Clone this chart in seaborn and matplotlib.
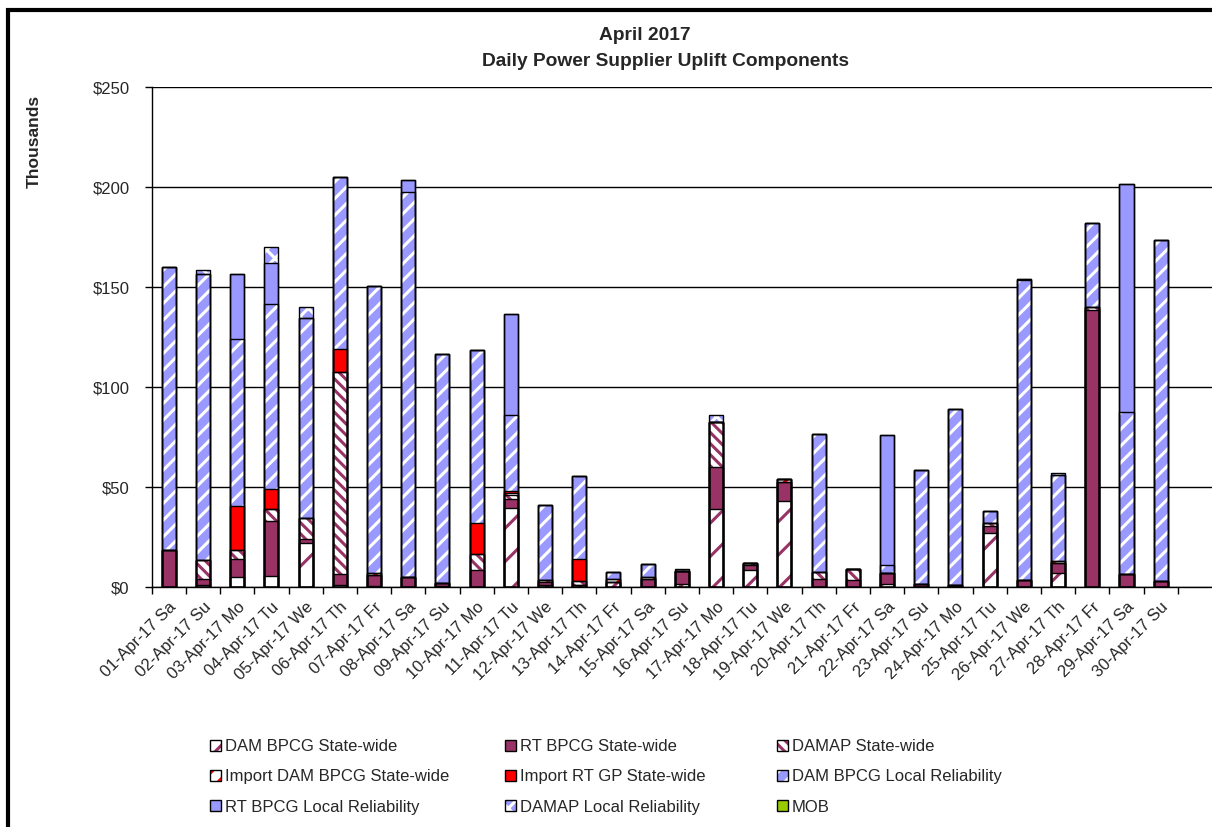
import numpy as np
import matplotlib
matplotlib.use("Agg")
import matplotlib.pyplot as plt
import matplotlib.patches as mpatches
from matplotlib.legend_handler import HandlerTuple
import seaborn as sns

days = ["01-Apr-17 Sa", "02-Apr-17 Su", "03-Apr-17 Mo", "04-Apr-17 Tu", "05-Apr-17 We",
        "06-Apr-17 Th", "07-Apr-17 Fr", "08-Apr-17 Sa", "09-Apr-17 Su", "10-Apr-17 Mo",
        "11-Apr-17 Tu", "12-Apr-17 We", "13-Apr-17 Th", "14-Apr-17 Fr", "15-Apr-17 Sa",
        "16-Apr-17 Su", "17-Apr-17 Mo", "18-Apr-17 Tu", "19-Apr-17 We", "20-Apr-17 Th",
        "21-Apr-17 Fr", "22-Apr-17 Sa", "23-Apr-17 Su", "24-Apr-17 Mo", "25-Apr-17 Tu",
        "26-Apr-17 We", "27-Apr-17 Th", "28-Apr-17 Fr", "29-Apr-17 Sa", "30-Apr-17 Su"]

# values in $ thousands, one list per component (stack order bottom -> top)
dam_bpcg_sw = [0, 1.0, 5.0, 5.5, 22.2, 0.8, 0.5, 0, 0.5, 0,
               39.5, 1.0, 1.0, 2.5, 0, 1.7, 39.2, 8.3, 43.0, 0,
               0, 1.7, 0, 0, 27.0, 0, 7.2, 0, 0, 0]
rt_bpcg_sw = [18.3, 3.2, 9.2, 27.5, 2.0, 5.9, 5.3, 5.0, 1.5, 8.7,
              4.7, 1.5, 0, 0, 4.2, 6.1, 20.8, 2.5, 9.5, 4.2,
              3.7, 5.5, 1.7, 0.8, 3.3, 3.7, 5.0, 138.3, 6.7, 2.8]
damap_sw = [0, 9.5, 4.1, 6.0, 10.3, 100.8, 0, 0, 0, 8.0,
            1.6, 1.0, 1.8, 0, 0, 0, 22.5, 1.4, 0, 3.3,
            5.5, 0, 0, 0, 1.9, 0, 0, 1.7, 0, 0]
import_dam_bpcg_sw = [0, 0, 0, 0, 0, 0, 1.0, 0, 0, 0,
                      1.0, 0, 0, 1.7, 0.8, 0, 0, 0, 1.3, 0,
                      0, 0, 0, 0, 0, 0, 0.8, 0, 0, 0]
import_rt_gp_sw = [0, 0, 22.0, 10.2, 0, 11.3, 0, 0, 0, 15.5,
                   1.0, 0, 11.4, 0, 0, 0, 0, 0, 0, 0,
                   0, 0, 0, 0, 0, 0, 0, 0, 0, 0]
dam_bpcg_lr = [141.7, 143.0, 83.9, 92.5, 100.0, 86.2, 143.7, 192.5, 114.3, 86.1,
               38.0, 37.7, 41.1, 3.3, 6.7, 0, 0, 0, 0, 69.2,
               0, 3.6, 57.0, 88.0, 5.6, 149.6, 42.8, 42.2, 80.8, 170.5]
rt_bpcg_lr = [0, 0, 32.1, 20.1, 0, 0, 0, 6.2, 0, 0,
              50.5, 0, 0, 0, 0, 0, 0, 0, 0, 0,
              0, 65.0, 0, 0, 0, 0.9, 0, 0, 113.8, 0]
damap_lr = [0, 2.0, 0, 8.2, 5.3, 0, 0, 0, 0, 0,
            0, 0, 0, 0, 0, 1.4, 3.7, 0, 0, 0,
            0, 0, 0, 0, 0, 0, 1.4, 0, 0, 0]
mob = [0] * 30

series_names = ["DAM BPCG State-wide", "RT BPCG State-wide", "DAMAP State-wide",
                "Import DAM BPCG State-wide", "Import RT GP State-wide", "DAM BPCG Local Reliability",
                "RT BPCG Local Reliability", "DAMAP Local Reliability", "MOB"]
series_vals = [dam_bpcg_sw, rt_bpcg_sw, damap_sw, import_dam_bpcg_sw, import_rt_gp_sw,
               dam_bpcg_lr, rt_bpcg_lr, damap_lr, mob]

maroon = "#993366"
lav = "#9999FF"
# (face, hatch colour, hatch)
styles = [("white", maroon, "/"),
          (maroon, maroon, None),
          ("white", maroon, "\\\\\\"),
          ("white", "#FF0000", "//"),
          ("#FF0000", "#FF0000", None),
          (lav, "white", "//"),
          (lav, lav, None),
          (lav, "white", "xx"),
          ("#99CC00", "#99CC00", None)]

sns.set_style("white")
plt.rcParams["font.family"] = ["Liberation Sans", "DejaVu Sans"]
plt.rcParams["hatch.linewidth"] = 2.2

fig = plt.figure(figsize=(12.12, 8.27), dpi=100)
ax = fig.add_axes([0.1252, 0.2902, 0.8748, 0.6046])

cum = np.cumsum(np.array(series_vals, dtype=float), axis=0)
bw = 0.41

# paint from the top layer down, each lower cumulative bar covers the one above
for k in range(len(series_vals) - 1, -1, -1):
    face, hcol, hatch = styles[k]
    sns.barplot(x=days, y=cum[k], order=days, color=face, saturation=1, width=bw,
                edgecolor=hcol, linewidth=0, hatch=hatch, errorbar=None, ax=ax, zorder=3)

# black outlines of the segments
for k in range(len(series_vals)):
    if np.all(np.array(series_vals[k]) == 0):
        continue
    sns.barplot(x=days, y=cum[k], order=days, fill=False, width=bw, edgecolor="black",
                linewidth=1.0, errorbar=None, ax=ax, zorder=4)

ax.set_xlim(-0.5, 30.5)
ax.set_ylim(0, 250)
ax.set_yticks(np.arange(0, 251, 50))
ax.set_yticklabels([f"${v}" for v in range(0, 251, 50)], fontsize=12)
ax.yaxis.grid(True, color="black", linewidth=1.0)
ax.set_axisbelow(True)

ax.set_xticks(np.arange(-0.5, 30.5, 1))
ax.set_xticklabels([])
ax.set_xticks(np.arange(30), minor=True)
ax.set_xticklabels(days, minor=True, rotation=45, ha="right", rotation_mode="anchor",
                   fontsize=12)
ax.tick_params(axis="x", which="major", direction="out", length=5, width=1, color="black",
               bottom=True)
ax.tick_params(axis="x", which="minor", length=0, pad=9)
ax.tick_params(axis="y", direction="out", length=5, width=1, color="black", left=True, pad=11)
ax.set_xlabel("")
ax.set_ylabel("")
for s in ["top", "right"]:
    ax.spines[s].set_visible(False)
for s in ["left", "bottom"]:
    ax.spines[s].set_color("black")
    ax.spines[s].set_linewidth(1.0)

fig.text(645 / 1212, 1 - 39.5 / 827, "April 2017", ha="center", va="baseline",
         fontsize=13.8, fontweight="bold")
fig.text(666 / 1212, 1 - 65.5 / 827, "Daily Power Supplier Uplift Components", ha="center",
         va="baseline", fontsize=13.8, fontweight="bold")
fig.text(0.0285, 0.829, "Thousands", rotation=90, ha="center", va="center", fontsize=12.5,
         fontweight="bold")

# legend, three columns placed like the original
handles = []
for k in range(len(series_vals)):
    face, hcol, hatch = styles[k]
    h1 = mpatches.Patch(facecolor=face, edgecolor=hcol, hatch=hatch, linewidth=0)
    h2 = mpatches.Patch(facecolor="none", edgecolor="black", linewidth=1)
    handles.append((h1, h2))
col_x = [210 / 1212, 505 / 1212, 777 / 1212]
for c in range(3):
    idx = [c, c + 3, c + 6]
    fig.legend([handles[i] for i in idx], [series_names[i] for i in idx],
               handler_map={tuple: HandlerTuple(ndivide=1, pad=0)},
               loc="upper left", bbox_to_anchor=(col_x[c], 1 - 739 / 827), frameon=False,
               fontsize=12, handlelength=0.65, handleheight=0.65, handletextpad=0.25,
               labelspacing=0.92, borderpad=0, borderaxespad=0)

# chart-area border (cut off at right and bottom as in the original)
fig.add_artist(mpatches.Rectangle((0.0066, -0.1), 1.2, 1.088, transform=fig.transFigure,
                                  fill=False, edgecolor="black", linewidth=3))

fig.savefig("out.png", dpi=100)
